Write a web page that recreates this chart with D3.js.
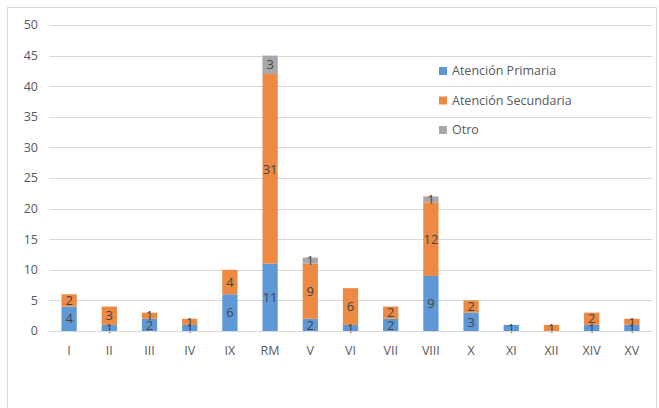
<!DOCTYPE html>
<html><head><meta charset="utf-8">
<script src="https://cdn.jsdelivr.net/npm/d3@7"></script>
<style>body{margin:0;background:#fff}svg{display:block}text{font-family:"Open Sans","Liberation Sans",sans-serif}</style>
</head><body>
<script>
const categories = ["I","II","III","IV","IX","RM","V","VI","VII","VIII","X","XI","XII","XIV","XV"];
const primaria   = [4,1,2,1,6,11,2,1,2,9,3,1,0,1,1];
const secundaria = [2,3,1,1,4,31,9,6,2,12,2,0,1,2,1];
const otro       = [0,0,0,0,0,3,1,0,0,1,0,0,0,0,0];
const seriesNames = ["Atención Primaria","Atención Secundaria","Otro"];
const colors = ["#5f98d6","#ec8a44","#a8a8a8"];
const yTicks = [0,5,10,15,20,25,30,35,40,45,50];

const W=659,H=408;
const svg=d3.select("body").append("svg").attr("width",W).attr("height",H);
svg.append("rect").attr("x",7.5).attr("y",7.5).attr("width",649).attr("height",420)
  .attr("fill","#fff").attr("stroke","#d9d9d9");

const x=d3.scaleBand().domain(categories).range([49,652]).paddingInner(0.62).paddingOuter(0.31);
const y=d3.scaleLinear().domain([0,50]).range([331,25]);

const g=svg.append("g");
g.selectAll("line.grid").data(yTicks).join("line")
  .attr("x1",49).attr("x2",652).attr("y1",d=>Math.round(y(d))+0.5).attr("y2",d=>Math.round(y(d))+0.5)
  .attr("stroke","#d9d9d9").attr("stroke-width",1);
g.selectAll("text.yt").data(yTicks).join("text")
  .attr("x",38).attr("y",d=>y(d)).attr("dy","0.35em").attr("text-anchor","end")
  .attr("font-size",12.5).attr("fill","#595959").text(d=>d);

const data=categories.map((c,i)=>({cat:c,p:primaria[i],s:secundaria[i],o:otro[i]}));
const stack=d3.stack().keys(["p","s","o"])(data);
stack.forEach((layer,k)=>{
  const gg=g.append("g");
  gg.selectAll("rect").data(layer).join("rect")
    .attr("x",d=>x(d.data.cat)).attr("width",x.bandwidth())
    .attr("y",d=>y(d[1])).attr("height",d=>y(d[0])-y(d[1]))
    .attr("fill",colors[k]);
});
stack.forEach((layer,k)=>{
  g.append("g").selectAll("text").data(layer.filter(d=>d[1]-d[0]>0)).join("text")
    .attr("x",d=>x(d.data.cat)+x.bandwidth()/2).attr("y",d=>y((d[0]+d[1])/2)).attr("dy","0.36em")
    .attr("text-anchor","middle").attr("font-size",13).attr("fill","#454545")
    .text(d=>d[1]-d[0]);
});
g.append("line").attr("x1",49).attr("x2",652).attr("y1",331.5).attr("y2",331.5).attr("stroke","#d9d9d9");
g.selectAll("text.xt").data(categories).join("text")
  .attr("x",d=>x(d)+x.bandwidth()/2).attr("y",351).attr("dy","0.35em").attr("text-anchor","middle")
  .attr("font-size",12.5).attr("fill","#595959").text(d=>d);

const leg=g.append("g");
seriesNames.forEach((n,i)=>{
  const ly=71+i*29.5;
  leg.append("rect").attr("x",439).attr("y",ly-4).attr("width",8).attr("height",8).attr("fill",colors[i]);
  leg.append("text").attr("x",452).attr("y",ly).attr("dy","0.35em").attr("font-size",12.5).attr("fill","#595959").text(n);
});
</script>
</body></html>
